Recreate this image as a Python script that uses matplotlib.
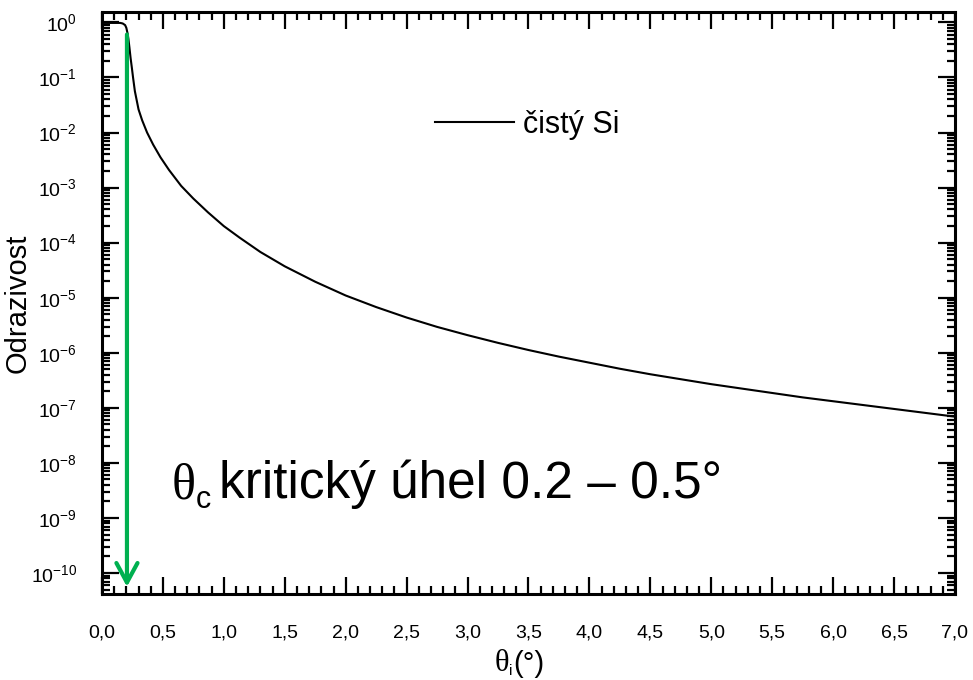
import numpy as np
import matplotlib
matplotlib.use("Agg")
import matplotlib.pyplot as plt
from matplotlib.ticker import MultipleLocator, FixedLocator, FixedFormatter, NullFormatter, LogFormatterSciNotation

plt.rcParams['font.family'] = ['Liberation Sans', 'DejaVu Sans']

# reflectivity of clean Si (angle in deg, log10 R)
theta = [0.00, 0.05, 0.10, 0.15, 0.17, 0.19, 0.20, 0.21, 0.217, 0.225, 0.235, 0.245,
         0.255, 0.27, 0.30, 0.33, 0.37, 0.42, 0.48, 0.55, 0.65, 0.75, 0.87, 1.00,
         1.13, 1.30, 1.50, 1.75, 2.00, 2.25, 2.50, 2.75, 3.00, 3.25, 3.50, 3.75,
         4.00, 4.25, 4.50, 4.75, 5.00, 5.25, 5.50, 5.75, 6.00, 6.25, 6.50, 6.75, 7.00]
log_r = [-0.01, -0.01, -0.01, -0.01, -0.02, -0.05, -0.10, -0.20, -0.30, -0.45, -0.65, -0.82,
         -1.00, -1.25, -1.58, -1.78, -2.00, -2.22, -2.45, -2.68, -2.97, -3.20, -3.45, -3.70,
         -3.91, -4.17, -4.43, -4.71, -4.96, -5.17, -5.36, -5.53, -5.68, -5.82, -5.95, -6.07,
         -6.18, -6.29, -6.39, -6.48, -6.57, -6.65, -6.73, -6.81, -6.88, -6.95, -7.02, -7.09, -7.16]
reflect = [10 ** v for v in log_r]

series_label = 'čistý Si'
xtick_vals = [0.0, 0.5, 1.0, 1.5, 2.0, 2.5, 3.0, 3.5, 4.0, 4.5, 5.0, 5.5, 6.0, 6.5, 7.0]
xtick_labels = ['0,0', '0,5', '1,0', '1,5', '2,0', '2,5', '3,0', '3,5', '4,0', '4,5',
                '5,0', '5,5', '6,0', '6,5', '7,0']
ytick_exps = [0, -1, -2, -3, -4, -5, -6, -7, -8, -9, -10]
theta_c = 0.205
note = 'kritický úhel 0.2 – 0.5°'

fig = plt.figure(figsize=(9.73, 6.8), dpi=100)
ax = fig.add_axes([0.1048, 0.1265, 0.8767, 0.856])

ax.plot(theta, reflect, color='black', lw=1.5, label=series_label)

ax.set_yscale('log')
ax.set_xlim(0, 7)
ax.set_ylim(10 ** -10.38, 10 ** 0.19)

ax.xaxis.set_major_locator(FixedLocator(xtick_vals))
ax.xaxis.set_major_formatter(FixedFormatter(xtick_labels))
ax.xaxis.set_minor_locator(MultipleLocator(0.1))
ax.yaxis.set_major_locator(FixedLocator([10.0 ** e for e in ytick_exps]))
ax.yaxis.set_major_formatter(LogFormatterSciNotation())
minor_y = [m * 10.0 ** e for e in range(-11, 1) for m in range(2, 10)]
minor_y = [v for v in minor_y if 10 ** -10.38 <= v <= 10 ** 0.19]
ax.yaxis.set_minor_locator(FixedLocator(minor_y))
ax.yaxis.set_minor_formatter(NullFormatter())

ax.tick_params(which='both', direction='in', top=True, right=True, width=1.6,
               labelsize=14, color='black')
ax.tick_params(which='major', length=12)
ax.tick_params(which='minor', length=6)
ax.tick_params(axis='x', which='major', pad=22)
ax.tick_params(axis='y', which='major', pad=18)
for s in ax.spines.values():
    s.set_linewidth(2.2)

ax.set_ylabel('Odrazivost', fontsize=21)
ax.yaxis.set_label_coords(-0.082, 0.5)

# x label: serif theta with sans subscript
xl = fig.text(0.508, 0.013, 'θ', family='Liberation Serif', fontsize=22, va='baseline')
xs = ax.annotate('i', xy=(1, 0), xycoords=xl, xytext=(0, 0), textcoords='offset points',
                 fontsize=11, va='bottom')
ax.annotate('(°)', xy=(1, 0), xycoords=(xs, xl), xytext=(1, 0), textcoords='offset points',
            fontsize=21, va='bottom')

ax.legend(loc='center left', bbox_to_anchor=(0.39, 0.806), frameon=False,
          fontsize=22, handlelength=2.6, handletextpad=0.3,
          borderpad=0, borderaxespad=0)

ax.annotate('', xy=(theta_c, 10 ** -10.25), xytext=(theta_c, 10 ** -0.22),
            arrowprops=dict(arrowstyle='->, head_length=0.7, head_width=0.38',
                            color='#00B050', lw=3, mutation_scale=20,
                            shrinkA=0, shrinkB=0))

t1 = ax.text(0.57, 10 ** -8.64, 'θ', family='Liberation Serif', fontsize=36, va='baseline')
t2 = ax.annotate('c', xy=(1, 0), xycoords=t1, xytext=(0, -4), textcoords='offset points',
                 fontsize=22, va='bottom')
ax.annotate(note, xy=(1, 0), xycoords=(t2, t1), xytext=(6, 0), textcoords='offset points',
            fontsize=37, va='bottom')

fig.savefig('out.png', dpi=100)
